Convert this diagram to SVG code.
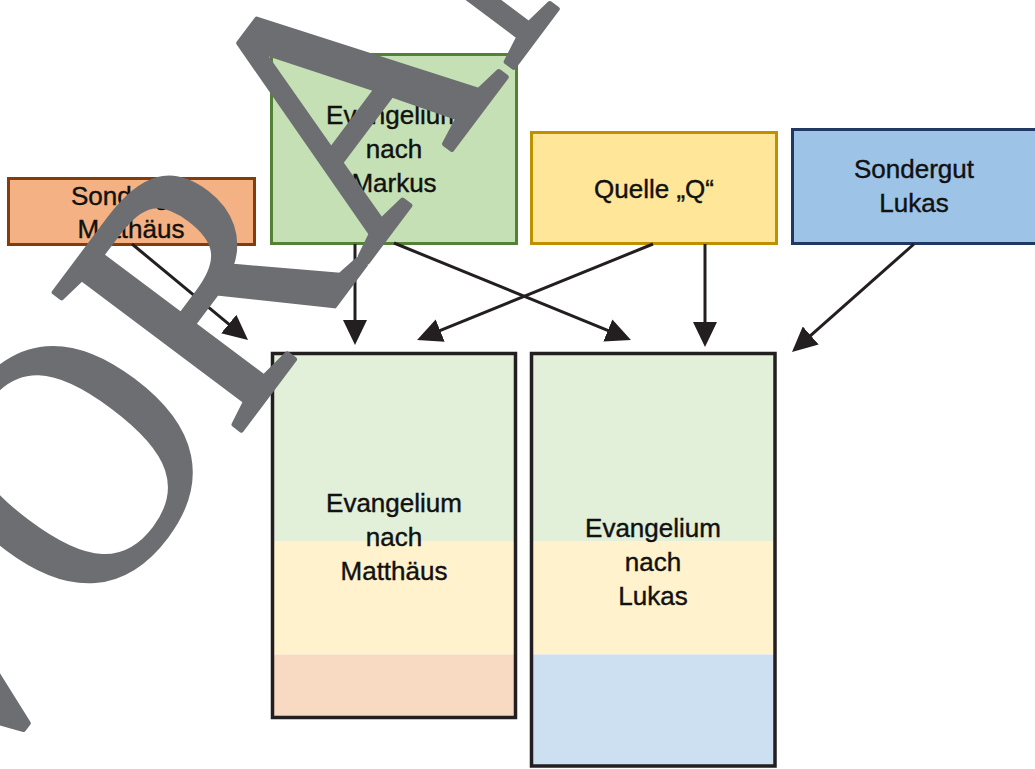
<svg xmlns="http://www.w3.org/2000/svg" width="1035" height="769" viewBox="0 0 1035 769">
  <defs>
    <style>
      .lbl { font-family: "Liberation Sans", Arial, sans-serif; font-size: 26px; fill: #111; text-anchor: middle; stroke: #111; stroke-width: 0.4px; }
      .box { stroke-width: 3; }
      .big { fill: none; stroke: #231F20; stroke-width: 3.5; }
      .conn { fill: none; stroke: #231F20; stroke-width: 3; marker-end: url(#arrow); }
      .wm { font-family: "Liberation Serif", "Times New Roman", serif; font-size: 355px; fill: #6D6E71; stroke: #6D6E71; stroke-width: 5px; stroke-linejoin: round; }
    </style>
    <marker id="arrow" viewBox="0 0 25 24" refX="15" refY="12" markerWidth="25" markerHeight="24" markerUnits="userSpaceOnUse" orient="auto">
      <path d="M0,0 L25,12 L0,24 z" fill="#231F20"/>
    </marker>
  </defs>
  <rect width="1035" height="769" fill="#FFFFFF"/>

  <g id="sondergut-matthaeus">
    <rect class="box" x="8.5" y="178.5" width="246" height="66" fill="#F4B183" stroke="#843C0C"/>
    <text class="lbl" x="131" y="205">Sondergut</text>
    <text class="lbl" x="131" y="238">Matthäus</text>
  </g>

  <g id="markus">
    <rect class="box" x="271.5" y="54.5" width="245" height="189" fill="#C5E0B4" stroke="#538135"/>
    <text class="lbl" x="394" y="124">Evangelium</text>
    <text class="lbl" x="394" y="158">nach</text>
    <text class="lbl" x="394" y="192">Markus</text>
  </g>

  <g id="quelle-q">
    <rect class="box" x="531.5" y="132.5" width="245" height="111" fill="#FFE699" stroke="#BF9000"/>
    <text class="lbl" x="654" y="198">Quelle „Q“</text>
  </g>

  <g id="sondergut-lukas">
    <rect class="box" x="792.5" y="129.5" width="260" height="114" fill="#9DC3E6" stroke="#1F3864"/>
    <text class="lbl" x="914" y="178">Sondergut</text>
    <text class="lbl" x="914" y="212">Lukas</text>
  </g>

  <g id="evangelium-matthaeus">
    <rect x="272.5" y="353.5" width="243" height="188" fill="#E2EFD9"/>
    <rect x="272.5" y="541.5" width="243" height="113" fill="#FFF2CC"/>
    <rect x="272.5" y="654.5" width="243" height="63" fill="#F8D9C1"/>
    <rect class="big" x="272.5" y="353.5" width="243" height="364"/>
    <text class="lbl" x="394" y="512">Evangelium</text>
    <text class="lbl" x="394" y="546">nach</text>
    <text class="lbl" x="394" y="580">Matthäus</text>
  </g>

  <g id="evangelium-lukas">
    <rect x="531.5" y="353.5" width="243.5" height="188" fill="#E2EFD9"/>
    <rect x="531.5" y="541.5" width="243.5" height="113" fill="#FFF2CC"/>
    <rect x="531.5" y="654.5" width="243.5" height="112" fill="#CDE0F1"/>
    <rect class="big" x="531.5" y="353.5" width="243.5" height="412.5"/>
    <text class="lbl" x="653" y="537">Evangelium</text>
    <text class="lbl" x="653" y="571">nach</text>
    <text class="lbl" x="653" y="605">Lukas</text>
  </g>

  <g id="connectors">
    <path class="conn" d="M132,244 L240.3,333.6"/>
    <path class="conn" d="M355,244 L355,335"/>
    <path class="conn" d="M394,243 L621.7,336.2"/>
    <path class="conn" d="M653,244 L426.3,336.2"/>
    <path class="conn" d="M705,244 L705,337"/>
    <path class="conn" d="M914,244 L799.5,345.4"/>
  </g>

  <g id="watermark">
    <text class="wm" transform="translate(0,752) rotate(-53.13) scale(0.924,1)" x="-90" y="0">VORANSICHT</text>
  </g>
</svg>
